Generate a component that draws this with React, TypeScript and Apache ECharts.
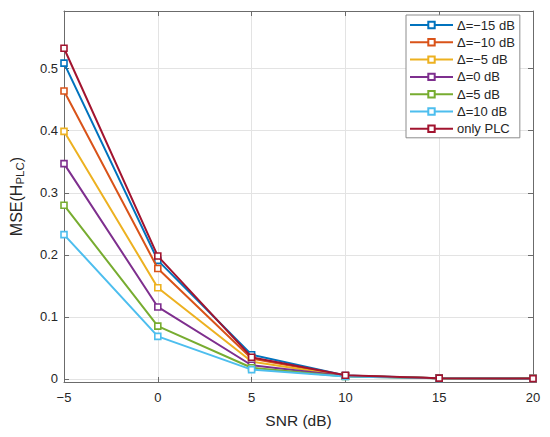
import React, { useEffect, useRef } from "react";
import * as echarts from "echarts";

const snr = [-5, 0, 5, 10, 15, 20];
const seriesNames = ["Δ=−15 dB", "Δ=−10 dB", "Δ=−5 dB", "Δ=0 dB", "Δ=5 dB", "Δ=10 dB", "only PLC"];
const colors = ["#0072BD", "#D95319", "#EDB120", "#7E2F8E", "#77AC30", "#4DBEEE", "#A2142F"];
const mseM15 = [0.509, 0.191, 0.039, 0.0055, 0.0012, 0.0005];
const mseM10 = [0.464, 0.178, 0.033, 0.005, 0.0011, 0.0005];
const mseM5 = [0.399, 0.147, 0.028, 0.0048, 0.001, 0.0005];
const mse0 = [0.347, 0.116, 0.022, 0.0045, 0.001, 0.0005];
const mse5 = [0.28, 0.085, 0.018, 0.004, 0.001, 0.0005];
const mse10 = [0.2326, 0.0686, 0.015, 0.0038, 0.0009, 0.0004];
const msePLC = [0.533, 0.198, 0.035, 0.0058, 0.0012, 0.0005];
const yTicks = [0, 0.1, 0.2, 0.3, 0.4, 0.5];

const allData = [mseM15, mseM10, mseM5, mse0, mse5, mse10, msePLC];
const FONT = "Liberation Sans, Arial, Helvetica, sans-serif";
const TXT = "#262626";
const AX = "#6b6b6b";

export default function App() {
  const ref = useRef<HTMLDivElement>(null);
  useEffect(() => {
    const chart = echarts.init(ref.current!, null, { renderer: "svg" });
    const series = allData.map((d, i) => ({
      name: seriesNames[i],
      type: "line",
      data: d.map((v, j) => [snr[j], v]),
      symbol: "rect",
      symbolSize: 6,
      showAllSymbol: true,
      lineStyle: { color: colors[i], width: 2 },
      itemStyle: { color: "#ffffff", borderColor: colors[i], borderWidth: 1.6 },
      emphasis: { disabled: true },
      z: 2 + i,
    }));
    chart.setOption({
      animation: false,
      backgroundColor: "#ffffff",
      textStyle: { fontFamily: FONT },
      grid: { left: 62, right: 17, top: 11, bottom: 55, containLabel: false },
      legend: {
        orient: "vertical",
        left: 406,
        top: 15,
        data: seriesNames,
        itemWidth: 43,
        itemHeight: 8,
        itemGap: 3.3,
        padding: [3, 5, 2, 3],
        backgroundColor: "#ffffff",
        borderColor: "#8c8c8c",
        borderWidth: 1,
        textStyle: { fontFamily: FONT, fontSize: 13, color: TXT, lineHeight: 14, padding: [0, 0, 0, -1] },
      },
      xAxis: [
        {
          type: "value",
          min: -5,
          max: 20,
          interval: 5,
          name: "SNR (dB)",
          nameLocation: "middle",
          nameGap: 30,
          nameTextStyle: { fontFamily: FONT, fontSize: 15.5, color: TXT },
          axisLine: { show: true, onZero: false, lineStyle: { color: AX, width: 1 } },
          axisTick: { show: true, inside: true, length: 5, lineStyle: { color: AX } },
          axisLabel: {
            fontFamily: FONT,
            fontSize: 13,
            color: TXT,
            margin: 9,
            formatter: (v: number) => (v < 0 ? "−" + Math.abs(v) : String(v)),
          },
          splitLine: { show: true, lineStyle: { color: "#e3e3e3", width: 1 } },
        },
        {
          type: "value",
          position: "top",
          min: -5,
          max: 20,
          interval: 5,
          axisLine: { show: true, onZero: false, lineStyle: { color: AX, width: 1 } },
          axisTick: { show: true, inside: true, length: 5, lineStyle: { color: AX } },
          axisLabel: { show: false },
          splitLine: { show: false },
        },
      ],
      yAxis: [
        {
          type: "value",
          min: -0.005,
          max: 0.593,
          name: "{a|MSE(H}{b|PLC}{a|)}",
          nameLocation: "middle",
          nameGap: 38,
          nameRotate: 90,
          nameTextStyle: {
            fontFamily: FONT,
            color: TXT,
            rich: {
              a: { fontFamily: FONT, fontSize: 16, color: TXT, lineHeight: 20 },
              b: { fontFamily: FONT, fontSize: 11.5, color: TXT, lineHeight: 11, verticalAlign: "bottom", padding: [5, 0, 0, 0] },
            },
          },
          axisLine: { show: true, onZero: false, lineStyle: { color: AX, width: 1 } },
          axisTick: { show: true, inside: true, length: 5, lineStyle: { color: AX }, customValues: yTicks },
          axisLabel: {
            fontFamily: FONT,
            fontSize: 13,
            color: TXT,
            margin: 6,
            customValues: yTicks,
            formatter: (v: number) => String(Math.round(v * 10) / 10),
          },
          splitLine: { show: true, lineStyle: { color: "#e3e3e3", width: 1 } },
        },
        {
          type: "value",
          position: "right",
          min: -0.005,
          max: 0.593,
          axisLine: { show: true, onZero: false, lineStyle: { color: AX, width: 1 } },
          axisTick: { show: true, inside: true, length: 5, lineStyle: { color: AX }, customValues: yTicks },
          axisLabel: { show: false, customValues: yTicks },
          splitLine: { show: false },
        },
      ],
      series,
    });
    return () => chart.dispose();
  }, []);
  return (
    <div
      ref={ref}
      style={{ position: "fixed", left: 0, top: 0, width: 550, height: 437, background: "#fff" }}
    />
  );
}
